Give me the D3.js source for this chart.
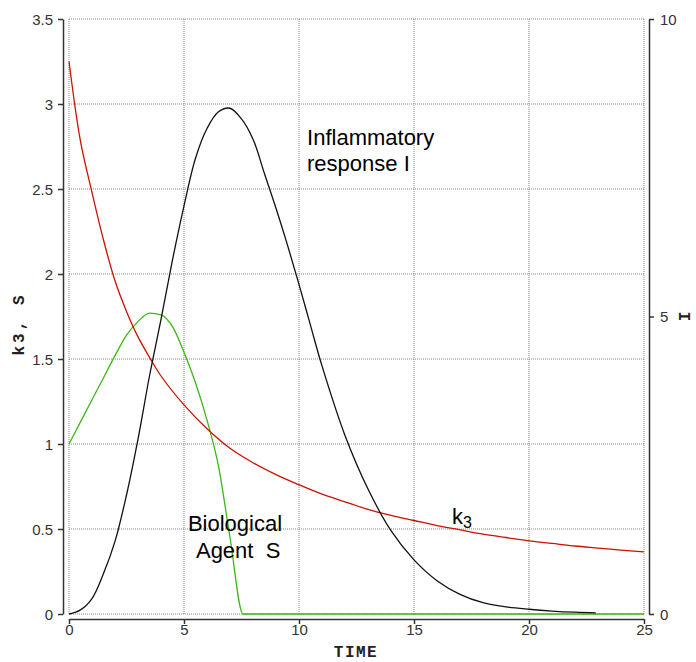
<!DOCTYPE html>
<html>
<head>
<meta charset="utf-8">
<script src="https://cdn.jsdelivr.net/npm/d3@7"></script>
<style>
  body { margin: 0; background: #fff; }
  svg { display: block; }
  .tick text { font-family: "Liberation Sans", Arial, sans-serif; font-size: 15px; fill: #333; }
  .axis path, .axis line { stroke: #333; stroke-width: 1.5; }
  .title { font-family: "Liberation Mono", "Courier New", monospace; font-weight: bold; font-size: 16px; fill: #222; }
  .note { font-family: "Liberation Sans", Arial, sans-serif; font-size: 22px; fill: #000; }
</style>
</head>
<body>
<svg class="root"></svg>
<script>
// k3 (left axis)
var k3T = [0, 0.5, 1, 1.5, 2, 2.5, 3, 3.5, 4, 5, 6, 7, 8, 9, 10, 11, 12, 13, 14, 15, 16, 17, 18, 19, 20, 21, 22, 23, 24, 25];
var k3Vals = [3.25, 2.78, 2.48, 2.2, 1.96, 1.78, 1.63, 1.51, 1.40, 1.23, 1.09, 0.975, 0.89, 0.82, 0.76, 0.705, 0.66, 0.615, 0.58, 0.55, 0.52, 0.495, 0.47, 0.45, 0.43, 0.415, 0.40, 0.388, 0.376, 0.366];

// biological agent S (left axis)
var sT = [0, 0.5, 1, 1.5, 2, 2.5, 3, 3.5, 4, 4.5, 5, 5.5, 6, 6.5, 7, 7.57, 10, 15, 20, 25];
var sVals = [1.0, 1.13, 1.26, 1.39, 1.52, 1.64, 1.72, 1.77, 1.76, 1.69, 1.54, 1.36, 1.14, 0.87, 0.45, 0, 0, 0, 0, 0];

// inflammatory response I (right axis)
var iT = [0, 0.5, 1, 1.5, 2, 2.5, 3, 3.5, 4, 4.5, 5, 5.5, 6, 6.5, 7, 7.5, 8, 8.5, 9, 9.5, 10, 10.5, 11, 12, 13, 14, 15, 16, 17, 18, 19, 20, 21, 22, 22.9];
var iVals = [0, 0.07, 0.26, 0.68, 1.22, 2.0, 2.94, 4.0, 4.95, 5.95, 6.86, 7.66, 8.16, 8.44, 8.5, 8.32, 7.98, 7.4, 6.82, 6.2, 5.54, 4.85, 4.17, 3.0, 2.1, 1.4, 0.91, 0.56, 0.33, 0.19, 0.12, 0.08, 0.05, 0.03, 0.02];

var xTicks = [0, 5, 10, 15, 20, 25];
var yTicks = [0, 0.5, 1, 1.5, 2, 2.5, 3, 3.5];
var y2Ticks = [0, 5, 10];

var margin = {top: 19, right: 52, bottom: 48, left: 69},
    width = 644 - margin.left,
    height = 614 - margin.top;

var x = d3.scaleLinear().domain([0, 25]).range([0, width]);
var y = d3.scaleLinear().domain([0, 3.5]).range([height, 0]);
var y2 = d3.scaleLinear().domain([0, 10]).range([height, 0]);

var svg = d3.select(".root")
    .attr("width", 696)
    .attr("height", 662)
  .append("g")
    .attr("transform", "translate(" + margin.left + "," + margin.top + ")");

// dotted grid
svg.append("g").selectAll("line")
    .data(xTicks)
  .enter().append("line")
    .attr("x1", (d) => x(d)).attr("x2", (d) => x(d))
    .attr("y1", 0).attr("y2", height)
    .attr("stroke", "#888").attr("stroke-dasharray", "1,1");

svg.append("g").selectAll("line")
    .data(yTicks)
  .enter().append("line")
    .attr("y1", (d) => y(d)).attr("y2", (d) => y(d))
    .attr("x1", 0).attr("x2", width)
    .attr("stroke", "#888").attr("stroke-dasharray", "1,1");

// axes, offset from the plot area
svg.append("g")
    .attr("class", "axis")
    .attr("transform", "translate(0," + (height + 5) + ")")
    .call(d3.axisBottom(x).tickValues(xTicks).tickSize(5).tickSizeOuter(0).tickPadding(6));

svg.append("g")
    .attr("class", "axis")
    .attr("transform", "translate(-6,0)")
    .call(d3.axisLeft(y).tickValues(yTicks).tickFormat(d3.format("~g")).tickSize(5).tickSizeOuter(0).tickPadding(5));

svg.append("g")
    .attr("class", "axis")
    .attr("transform", "translate(" + (width + 5) + ",0)")
    .call(d3.axisRight(y2).tickValues(y2Ticks).tickSize(5).tickSizeOuter(0).tickPadding(6));

svg.selectAll(".axis .tick text").attr("dy", "0.35em");

// curves
var line = (yScale, curve) => d3.line()
    .x((d) => x(d[0]))
    .y((d) => yScale(d[1]))
    .curve(curve);

svg.append("path")
    .datum(d3.zip(sT, sVals))
    .attr("fill", "none").attr("stroke", "#3cb814").attr("stroke-width", 1.3)
    .attr("d", line(y, d3.curveMonotoneX));

svg.append("path")
    .datum(d3.zip(k3T, k3Vals))
    .attr("fill", "none").attr("stroke", "#cc1100").attr("stroke-width", 1.3)
    .attr("d", line(y, d3.curveCatmullRom));

svg.append("path")
    .datum(d3.zip(iT, iVals))
    .attr("fill", "none").attr("stroke", "#111").attr("stroke-width", 1.3)
    .attr("d", line(y2, d3.curveCatmullRom));

// axis titles
svg.append("text")
    .attr("class", "title")
    .attr("text-anchor", "middle")
    .attr("letter-spacing", 3)
    .attr("transform", "translate(" + (-45) + "," + (324 - margin.top) + ")rotate(-90)")
    .text("k3, S");

svg.append("text")
    .attr("class", "title")
    .attr("text-anchor", "middle")
    .attr("letter-spacing", 1.5)
    .attr("transform", "translate(" + (356 - margin.left) + "," + (height + 43) + ")")
    .text("TIME");

svg.append("text")
    .attr("class", "title")
    .attr("text-anchor", "middle")
    .attr("transform", "translate(" + (width + 46) + "," + (height / 2) + ")rotate(-90)")
    .text("I");

// annotations
svg.append("text").attr("class", "note").attr("x", x(10.35)).attr("y", 145 - margin.top).text("Inflammatory");
svg.append("text").attr("class", "note").attr("x", x(10.35)).attr("y", 171 - margin.top).text("response I");
svg.append("text").attr("class", "note").attr("x", x(5.17)).attr("y", 531 - margin.top).text("Biological");
svg.append("text").attr("class", "note").attr("x", x(5.52)).attr("y", 558 - margin.top).attr("xml:space", "preserve").text("Agent  S");

var k3Label = svg.append("text").attr("class", "note").attr("x", x(16.65)).attr("y", 524 - margin.top);
k3Label.append("tspan").text("k");
k3Label.append("tspan").attr("font-size", "16px").attr("dy", 4).text("3");
</script>
</body>
</html>
